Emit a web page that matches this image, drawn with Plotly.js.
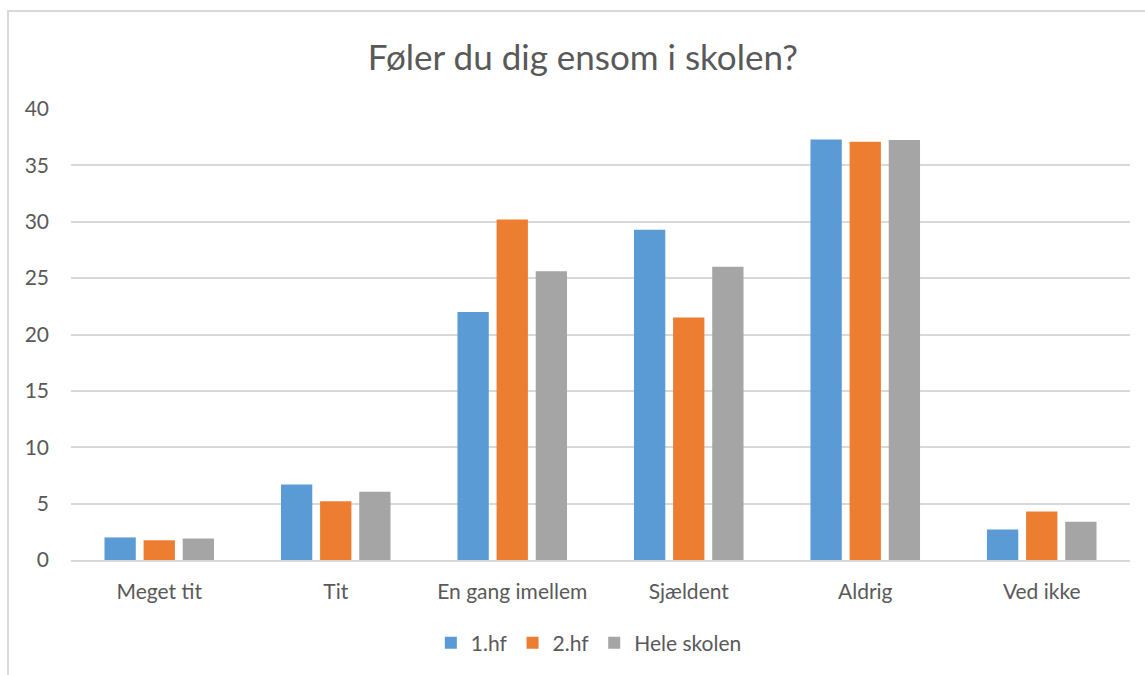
<!DOCTYPE html>
<html>
<head>
<meta charset="utf-8">
<script src="https://cdn.plot.ly/plotly-3.0.1.min.js"></script>
<style>
html,body{margin:0;padding:0;background:#fff;}
#wrap{position:relative;width:1145px;height:675px;}
#chart{width:1145px;height:675px;}
#frame{position:absolute;left:7px;top:10px;width:1200px;height:700px;border-left:2px solid #D9D9D9;border-top:2px solid #D9D9D9;pointer-events:none;box-sizing:border-box;}
</style>
</head>
<body>
<div id="wrap"><div id="chart"></div><div id="frame"></div></div>
<script>
const categories = ["Meget tit", "Tit", "En gang imellem", "Sjældent", "Aldrig", "Ved ikke"];
const series1Name = "1.hf";
const series1 = [2.0, 6.7, 22.0, 29.3, 37.3, 2.7];
const series2Name = "2.hf";
const series2 = [1.75, 5.2, 30.2, 21.5, 37.1, 4.3];
const series3Name = "Hele skolen";
const series3 = [1.9, 6.05, 25.6, 26.0, 37.25, 3.4];
const yTicks = [0, 5, 10, 15, 20, 25, 30, 35, 40];

const font = "Lato, Open Sans, sans-serif";
const mk = (name, y, color) => ({
  type: "bar", name: name, x: categories, y: y,
  marker: {color: color, line: {width: 0}},
  hoverinfo: "y"
});
const data = [
  mk(series1Name, series1, "#5B9BD5"),
  mk(series2Name, series2, "#ED7D31"),
  mk(series3Name, series3, "#A5A5A5")
];
const layout = {
  width: 1145, height: 675,
  margin: {l: 71, r: 15, t: 109, b: 115},
  paper_bgcolor: "#fff", plot_bgcolor: "#fff",
  title: {text: "Føler du dig ensom i skolen?", font: {family: font, size: 35, color: "#595959"}, xref: "container", x: 0.509, xanchor: "center", y: 0.915, yanchor: "middle"},
  barmode: "group", bargap: 0.335, bargroupgap: 0.2,
  font: {family: font, color: "#595959"},
  xaxis: {
    type: "category", showgrid: false, showline: true, linecolor: "#D9D9D9", linewidth: 2,
    tickfont: {family: font, size: 21, color: "#595959"}, ticks: "", ticklabelstandoff: 12
  },
  yaxis: {
    range: [0, 40], tickvals: yTicks, showgrid: true, gridcolor: "#D9D9D9", gridwidth: 2,
    zeroline: false, showline: false, ticks: "",
    tickfont: {family: font, size: 21, color: "#595959"}, ticklabelstandoff: 21
  },
  showlegend: true,
  legend: {orientation: "h", x: 0.489, xanchor: "center", y: -0.184, yanchor: "middle",
    font: {family: font, size: 21, color: "#595959"}, traceorder: "normal", itemwidth: 30}
};
Plotly.newPlot("chart", data, layout, {displayModeBar: false, staticPlot: true});
</script>
</body>
</html>
